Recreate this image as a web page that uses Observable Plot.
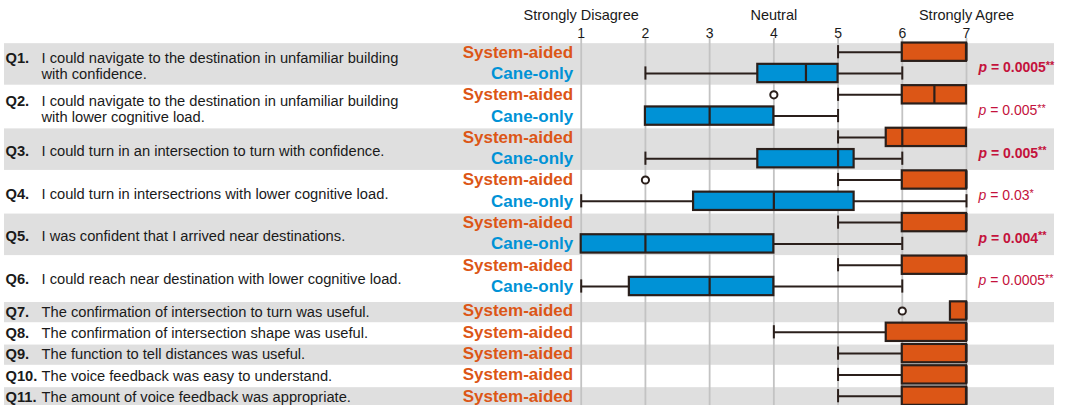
<!DOCTYPE html>
<html>
<head>
<meta charset="utf-8">
<script src="https://cdn.jsdelivr.net/npm/d3@7"></script>
<script src="https://cdn.jsdelivr.net/npm/@observablehq/plot@0.6"></script>
<style>
  html, body { margin: 0; padding: 0; background: #fff; }
  #chart svg { display: block; }
</style>
</head>
<body>
<div id="chart"></div>
<script>
// ---------- data ----------
const questionIds = ["Q1", "Q2", "Q3", "Q4", "Q5", "Q6", "Q7", "Q8", "Q9", "Q10", "Q11"];
const questionTexts = [
  "I could navigate to the destination in unfamiliar building\nwith confidence.",
  "I could navigate to the destination in unfamiliar building\nwith lower cognitive load.",
  "I could turn in an intersection to turn with confidence.",
  "I could turn in intersectrions with lower cognitive load.",
  "I was confident that I arrived near destinations.",
  "I could reach near destination with lower cognitive load.",
  "The confirmation of intersection to turn was useful.",
  "The confirmation of intersection shape was useful.",
  "The function to tell distances was useful.",
  "The voice feedback was easy to understand.",
  "The amount of voice feedback was appropriate."
];
const pValues = ["p = 0.0005**", "p = 0.005**", "p = 0.005**", "p = 0.03*", "p = 0.004**", "p = 0.0005**"];
const conditions = ["System-aided", "Cane-only"];
const likertTicks = [1, 2, 3, 4, 5, 6, 7];
const scaleAnchors = ["Strongly Disagree", "Neutral", "Strongly Agree"];
const anchorValues = [1, 4, 7];
// five-number summaries: [lower whisker, Q1, median, Q3, upper whisker]
const systemAided = [
  [5, 6, 7, 7, 7],
  [5, 6, 6.5, 7, 7],
  [5, 5.75, 6, 7, 7],
  [5, 6, 7, 7, 7],
  [5, 6, 7, 7, 7],
  [5, 6, 7, 7, 7],
  [6.75, 6.75, 7, 7, 7],
  [4, 5.75, 7, 7, 7],
  [5, 6, 7, 7, 7],
  [5, 6, 7, 7, 7],
  [5, 6, 7, 7, 7]
];
const caneOnly = [
  [2, 3.75, 4.5, 5, 6],
  [2, 2, 3, 4, 5],
  [2, 3.75, 5, 5.25, 6],
  [1, 2.75, 4, 5.25, 7],
  [1, 1, 2, 4, 6],
  [1, 1.75, 3, 4, 6]
];
const systemOutliers = [[], [4], [], [2], [], [], [6], [], [], [], []];
const caneOutliers = [[], [], [], [], [], []];

// ---------- styling ----------
const condColors = ["#DC5616", "#0092D6"];
const ink = "#2a1f1b";
const pColor = "#C4123C";
const bandColor = "#DFDFDF";
const gridColor = "#C3C3C3";
const font = "'Liberation Sans', Arial, Helvetica, sans-serif";
const gapAfterPaired = 0.15;   // small extra gap after the paired questions
const rowStep = 21.3;
const firstRowY = 51.7;
const boxHalf = 0.43;
const capHalf = 0.31;

// ---------- build rows ----------
const rows = [];
const questions = [];
let r = 0;
questionIds.forEach((id, qi) => {
  const paired = qi < caneOnly.length;
  const offset = paired ? 0 : gapAfterPaired;
  const qRows = [];
  const addRow = (cond, stats, outs) => {
    const [lo, q1, med, q3, hi] = stats;
    const row = {q: id, qi, cond, y: r + offset, lo, q1, med, q3, hi, outliers: outs};
    rows.push(row); qRows.push(row); r++;
  };
  addRow(conditions[0], systemAided[qi], systemOutliers[qi]);
  if (paired) addRow(conditions[1], caneOnly[qi], caneOutliers[qi]);
  const text = questionTexts[qi];
  questions.push({
    id, qi, text, paired,
    label: id + "." + (text.includes("\n") ? "\n" : ""),
    p: pValues[qi] ?? null,
    yTop: qRows[0].y,
    yBot: qRows[qRows.length - 1].y,
    yMid: (qRows[0].y + qRows[qRows.length - 1].y) / 2,
    shaded: qi % 2 === 0
  });
});
const lastY = rows[rows.length - 1].y;
const outlierPts = rows.flatMap(d => d.outliers.map(v => ({x: v, y: d.y})));
const xDomain = [likertTicks[0], likertTicks[likertTicks.length - 1]];
const pairedQs = questions.filter(d => d.paired);
const singleQs = questions.filter(d => !d.paired);

const qLabel = (data, dy) => [
  Plot.text(data, {
    y: "yMid", text: "label", frameAnchor: "left", textAnchor: "start",
    dx: 1, dy, fontWeight: "bold", fontSize: 14.7, lineHeight: 1.1
  }),
  Plot.text(data, {
    y: "yMid", text: "text", frameAnchor: "left", textAnchor: "start",
    dx: 37, dy, fontSize: 14.7, lineHeight: 1.1
  })
];

const plot = Plot.plot({
  width: 1065,
  height: 405,
  marginLeft: 4,
  marginRight: 11,
  marginTop: 38,
  marginBottom: 0,
  style: {fontFamily: font, color: "#1a1a1a", background: "#fff"},
  x: {domain: xDomain, range: [580.7, 966], label: null},
  y: {domain: [0, lastY], range: [firstRowY, firstRowY + rowStep * lastY], axis: null},
  color: {domain: conditions, range: condColors},
  marks: [
    // shaded bands
    Plot.rect(questions.filter(d => d.shaded), {
      y1: d => d.yTop - 0.4, y2: d => d.yBot + 0.55, fill: bandColor
    }),
    // gridlines
    Plot.ruleX(likertTicks, {stroke: gridColor, strokeWidth: 1.8}),
    Plot.axisX(likertTicks, {anchor: "top", tickSize: 0, tickPadding: 1, fontSize: 14, label: null}),
    Plot.text(scaleAnchors, {
      x: (d, i) => anchorValues[i], frameAnchor: "top", lineAnchor: "middle", dy: -23, fontSize: 14.5
    }),
    // whiskers
    Plot.ruleY(rows.filter(d => d.lo < d.q1), {y: "y", x1: "lo", x2: "q1", stroke: ink, strokeWidth: 2}),
    Plot.ruleY(rows.filter(d => d.hi > d.q3), {y: "y", x1: "q3", x2: "hi", stroke: ink, strokeWidth: 2}),
    Plot.ruleX(rows.filter(d => d.lo < d.q1), {
      x: "lo", y1: d => d.y - capHalf, y2: d => d.y + capHalf, stroke: ink, strokeWidth: 2
    }),
    Plot.ruleX(rows.filter(d => d.hi > d.q3), {
      x: "hi", y1: d => d.y - capHalf, y2: d => d.y + capHalf, stroke: ink, strokeWidth: 2
    }),
    // boxes
    Plot.rect(rows, {
      x1: "q1", x2: "q3", y1: d => d.y - boxHalf, y2: d => d.y + boxHalf,
      fill: "cond", stroke: ink, strokeWidth: 2.2
    }),
    // medians
    Plot.ruleX(rows, {
      x: "med", y1: d => d.y - boxHalf, y2: d => d.y + boxHalf, stroke: ink, strokeWidth: 2.2
    }),
    // outliers
    Plot.dot(outlierPts, {x: "x", y: "y", r: 3.6, stroke: ink, strokeWidth: 2, fill: "#fff"}),
    // condition labels
    Plot.text(rows, {
      x: () => xDomain[0], y: "y", text: "cond", fill: "cond",
      textAnchor: "end", dx: -8, fontWeight: "bold", fontSize: 17
    }),
    // question labels
    ...qLabel(pairedQs, 3),
    ...qLabel(singleQs, 0.5),
    // p-values
    Plot.text(questions.filter(d => d.p && d.shaded), {
      x: () => xDomain[1], y: "yMid", text: "p", textAnchor: "start",
      dx: 12, dy: 5, fill: pColor, fontSize: 14, fontWeight: "bold"
    }),
    Plot.text(questions.filter(d => d.p && !d.shaded), {
      x: () => xDomain[1], y: "yMid", text: "p", textAnchor: "start",
      dx: 12, dy: 5, fill: pColor, fontSize: 14
    })
  ]
});

// italic "p" and raised asterisks in p-value labels
d3.select(plot).selectAll("text").each(function() {
  const s = this.textContent;
  const m = /^p( = [0-9.]+)(\*+)$/.exec(s);
  if (!m) return;
  const t = d3.select(this);
  t.text(null);
  t.append("tspan").attr("font-style", "italic").text("p");
  t.append("tspan").text(m[1]);
  t.append("tspan").attr("font-size", "0.78em").attr("dy", "-0.3em").text(m[2]);
});

document.getElementById("chart").append(plot);
</script>
</body>
</html>
